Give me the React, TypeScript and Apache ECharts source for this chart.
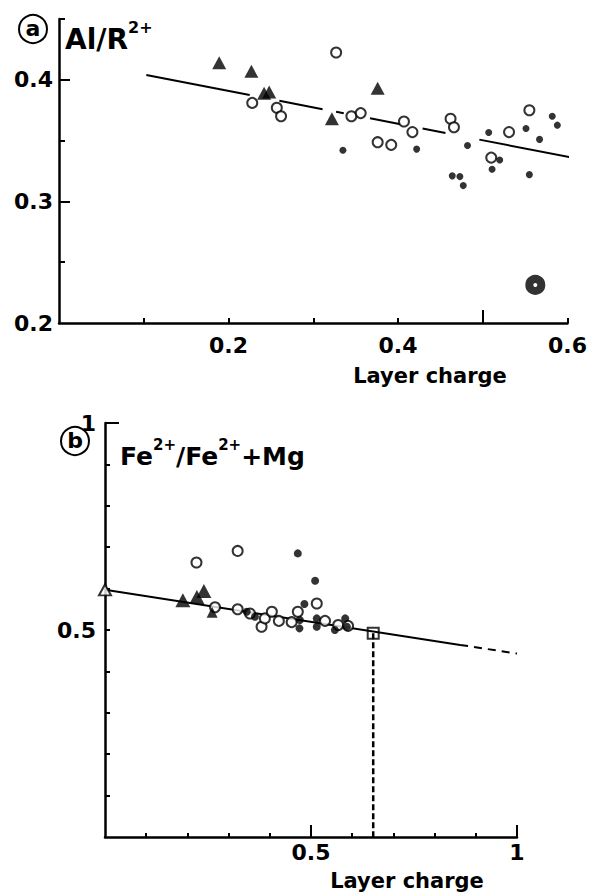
import React, { useEffect, useRef } from 'react';
import * as echarts from 'echarts';

// ---------- Panel (a): Al/R2+ vs layer charge ----------
const aTriangles: number[][] = [
  [0.189, 0.414], [0.227, 0.407], [0.242, 0.389], [0.248, 0.390], [0.322, 0.368], [0.376, 0.393],
];
const aOpen: number[][] = [
  [0.228, 0.381], [0.257, 0.377], [0.262, 0.370], [0.327, 0.4225], [0.345, 0.370], [0.356, 0.3726],
  [0.376, 0.3487], [0.392, 0.3465], [0.407, 0.3657], [0.417, 0.357], [0.462, 0.368], [0.466, 0.361],
  [0.510, 0.336], [0.531, 0.357], [0.555, 0.375],
];
const aFilled: number[][] = [
  [0.335, 0.342], [0.422, 0.343], [0.482, 0.346], [0.464, 0.321], [0.473, 0.3204], [0.477, 0.313],
  [0.520, 0.334], [0.511, 0.3265], [0.507, 0.3566], [0.551, 0.360], [0.567, 0.351], [0.555, 0.322],
  [0.582, 0.370], [0.588, 0.3627],
];
const aRing: number[][] = [[0.562, 0.2313]];
// trend line, drawn as broken segments (gaps around points)
const aLineSegments: number[][][] = [
  [[0.103, 0.404], [0.225, 0.3875]],
  [[0.260, 0.3827], [0.311, 0.3758]],
  [[0.327, 0.3737], [0.336, 0.3725]],
  [[0.367, 0.3683], [0.403, 0.3634]],
  [[0.429, 0.3599], [0.456, 0.3562]],
  [[0.496, 0.3508], [0.625, 0.3333]],
];
const aXTicksMinor = [0.1, 0.2, 0.3, 0.4, 0.6];
const aXTicksMajor = [0.5];
const aXLabels = [0.2, 0.4, 0.6];
const aYTicksMinor = [0.25, 0.35, 0.45];
const aYTicksMajor = [0.3, 0.4];
const aYLabels = [0.2, 0.3, 0.4];

// ---------- Panel (b): Fe2+/(Fe2+ + Mg) vs layer charge ----------
const bOpen: number[][] = [
  [0.222, 0.663], [0.322, 0.691], [0.267, 0.555], [0.322, 0.550], [0.352, 0.540], [0.380, 0.508],
  [0.388, 0.528], [0.405, 0.544], [0.422, 0.522], [0.453, 0.519], [0.468, 0.544], [0.514, 0.564],
  [0.534, 0.522], [0.566, 0.512], [0.590, 0.510],
];
const bFilled: number[][] = [
  [0.468, 0.685], [0.510, 0.619], [0.344, 0.544], [0.364, 0.532], [0.472, 0.504], [0.484, 0.563],
  [0.473, 0.524], [0.514, 0.528], [0.514, 0.508], [0.558, 0.500], [0.583, 0.528], [0.587, 0.508],
];
const bTrianglesLarge: number[][] = [[0.189, 0.572], [0.223, 0.580], [0.240, 0.594]];
const bTrianglesSmall: number[][] = [[0.260, 0.543]];
const bOpenTriangle: number[][] = [[0, 0.597]];
const bSquare: number[][] = [[0.651, 0.492]];
const bLineSolid: number[][] = [[0, 0.597], [0.862, 0.464]];
const bLineDashed: number[][] = [[0.862, 0.464], [1.0, 0.443]];
const bDropLine: number[][] = [[0.651, 0.492], [0.651, 0]];
const bXTicksMinor = [0.1, 0.2, 0.3, 0.4, 0.6, 0.7, 0.8, 0.9];
const bXTicksMajor = [0.5, 1];
const bXLabels = [0.5, 1];
const bYTicksMinor = [0.1, 0.2, 0.3, 0.4, 0.5, 0.6, 0.7, 0.8, 0.9];
const bYTicksTop = [1];
const bYLabels = [0.5, 1];

const FONT = 'DejaVu Sans';
const BLACK = '#000';

function fmt(v: number) {
  return Math.abs(v - 1) < 1e-9 ? '1' : v.toFixed(1);
}

function valueAxis(
  gridIndex: number,
  min: number,
  max: number,
  position: string,
  ticks: number[],
  tickLen: number,
  labels: number[] | null,
  labelMargin: number,
  showLine: boolean
): any {
  return {
    type: 'value',
    gridIndex,
    min,
    max,
    position,
    splitLine: { show: false },
    axisLine: { show: showLine, onZero: false, lineStyle: { color: BLACK, width: 2.5 } },
    axisTick: {
      show: true,
      inside: true,
      length: tickLen,
      customValues: ticks,
      lineStyle: { color: BLACK, width: 2 },
    },
    axisLabel: labels
      ? {
          show: true,
          customValues: labels,
          formatter: (v: number) => fmt(v),
          color: BLACK,
          fontFamily: FONT,
          fontWeight: 'bold',
          fontSize: 22,
          margin: labelMargin,
        }
      : { show: false },
  };
}

function scatter(data: number[][], xi: number, yi: number, symbol: string, size: any, itemStyle: any, z = 3): any {
  return {
    type: 'scatter',
    xAxisIndex: xi,
    yAxisIndex: yi,
    data,
    symbol,
    symbolSize: size,
    itemStyle,
    clip: false,
    silent: true,
    z,
  };
}

function line(data: number[][], xi: number, yi: number, width: number, type: any = 'solid'): any {
  return {
    type: 'line',
    xAxisIndex: xi,
    yAxisIndex: yi,
    data,
    symbol: 'none',
    silent: true,
    clip: false,
    lineStyle: { color: BLACK, width, type },
    z: 1,
  };
}

const open = { color: '#fff', borderColor: BLACK, borderWidth: 2 };
const filled = { color: BLACK };

function buildOption(): any {
  const series: any[] = [];
  aLineSegments.forEach((seg) => series.push(line(seg, 0, 0, 2)));
  series.push(scatter(aOpen, 0, 0, 'circle', 10, open));
  series.push(scatter(aFilled, 0, 0, 'circle', 7, filled));
  series.push(scatter(aTriangles, 0, 0, 'triangle', [14, 13], filled, 4));
  series.push(scatter(aRing, 0, 0, 'circle', 12, { color: '#fff', borderColor: BLACK, borderWidth: 8 }));

  series.push(line(bLineSolid, 2, 2, 2));
  series.push(line(bLineDashed, 2, 2, 2, [8, 6]));
  series.push(line(bDropLine, 2, 2, 2.5, [6, 3]));
  series.push(scatter(bOpen, 2, 2, 'circle', 10, open));
  series.push(scatter(bFilled, 2, 2, 'circle', 8, filled, 4));
  series.push(scatter(bTrianglesLarge, 2, 2, 'triangle', [15, 14], filled, 4));
  series.push(scatter(bTrianglesSmall, 2, 2, 'triangle', [11, 11], filled, 4));
  series.push(scatter(bOpenTriangle, 2, 2, 'triangle', [12, 11], open, 4));
  series.push(scatter(bSquare, 2, 2, 'rect', [11, 11], { color: 'rgba(0,0,0,0)', borderColor: BLACK, borderWidth: 2 }, 4));

  const boldText = (text: string, x: number, y: number, size: number, align = 'left', vAlign = 'middle') => ({
    type: 'text',
    x,
    y,
    style: {
      text,
      fill: BLACK,
      font: `bold ${size}px "${FONT}"`,
      align,
      verticalAlign: vAlign,
    },
  });

  const richLabel = (text: string, x: number, y: number, main: number, sup: number) => ({
    type: 'text',
    x,
    y,
    style: {
      text,
      align: 'left',
      verticalAlign: 'middle',
      rich: {
        m: { fontFamily: FONT, fontWeight: 'bold', fontSize: main, fill: BLACK, lineHeight: main + 6, verticalAlign: 'bottom' },
        s: { fontFamily: FONT, fontWeight: 'bold', fontSize: sup, fill: BLACK, lineHeight: sup + 2, verticalAlign: 'top' },
      },
    },
  });

  return {
    animation: false,
    backgroundColor: '#fff',
    grid: [
      { left: 59, top: 19, width: 510, height: 304, containLabel: false },
      { left: 105, top: 423, width: 412, height: 414, containLabel: false },
    ],
    xAxis: [
      valueAxis(0, 0, 0.6, 'bottom', aXTicksMinor, 5, aXLabels, 11, true),
      valueAxis(0, 0, 0.6, 'bottom', aXTicksMajor, 13, null, 0, false),
      valueAxis(1, 0, 1, 'bottom', bXTicksMinor, 4, bXLabels, 4, true),
      valueAxis(1, 0, 1, 'bottom', bXTicksMajor, 12, null, 0, false),
    ],
    yAxis: [
      valueAxis(0, 0.2, 0.45, 'left', aYTicksMinor, 6, aYLabels, 6, true),
      valueAxis(0, 0.2, 0.45, 'left', aYTicksMajor, 11, null, 0, false),
      valueAxis(1, 0, 1, 'left', bYTicksMinor, 5, bYLabels, 9, true),
      valueAxis(1, 0, 1, 'left', bYTicksTop, 14, null, 0, false),
    ],
    series,
    graphic: [
      { type: 'circle', shape: { cx: 33, cy: 29, r: 14 }, style: { fill: 'none', stroke: BLACK, lineWidth: 2 } },
      boldText('a', 33, 28, 22, 'center'),
      richLabel('{m|Al/R}{s|2+}', 65, 36, 28, 16),
      boldText('Layer charge', 430, 376, 21, 'center'),
      { type: 'circle', shape: { cx: 75, cy: 441, r: 14 }, style: { fill: 'none', stroke: BLACK, lineWidth: 2 } },
      boldText('b', 75, 440, 22, 'center'),
      richLabel('{m|Fe}{s|2+}{m|/Fe}{s|2+}{m|+Mg}', 120, 453, 25, 15),
      boldText('Layer charge', 407, 881, 21, 'center'),
    ],
  };
}

export default function App() {
  const ref = useRef<HTMLDivElement>(null);
  useEffect(() => {
    document.body.style.margin = '0';
    if (!ref.current) return;
    const chart = echarts.init(ref.current, null, { renderer: 'svg' });
    chart.setOption(buildOption());
    return () => chart.dispose();
  }, []);
  return <div ref={ref} style={{ width: 590, height: 892 }} />;
}
